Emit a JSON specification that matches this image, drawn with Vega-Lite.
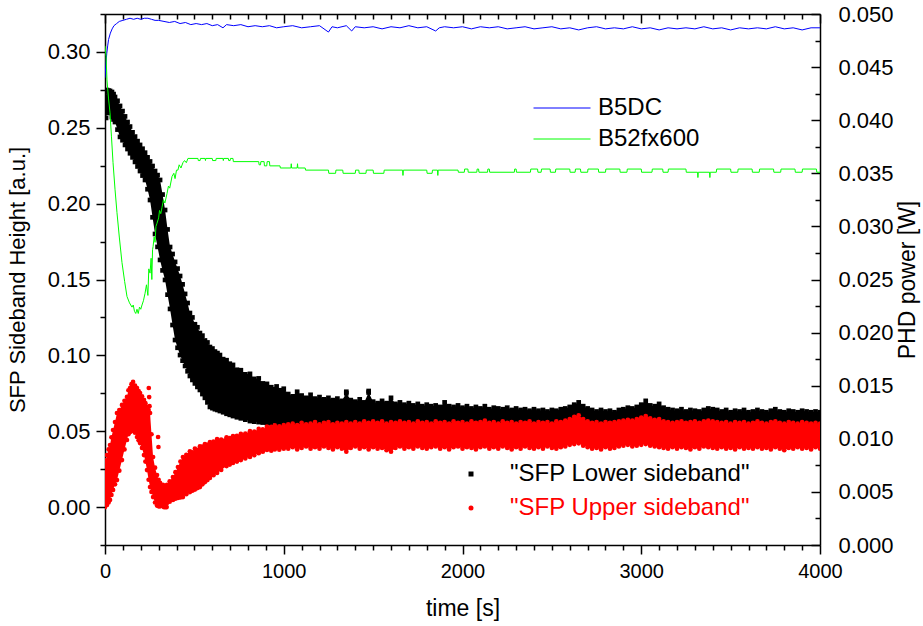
{
"$schema": "https://vega.github.io/schema/vega-lite/v6.json",
"width": 715,
"height": 531,
"autosize": "none",
"padding": {"left": 105, "top": 14, "right": 103, "bottom": 81},
"background": "white",
"config": {
  "view": {"stroke": null},
  "font": "Liberation Sans",
  "axis": {"domainColor": "#000000", "domainWidth": 1.5, "tickColor": "#000000", "tickWidth": 1.5, "labelColor": "#000000", "titleColor": "#000000", "labelFont": "Liberation Sans", "titleFont": "Liberation Sans", "labelFontSize": 22, "titleFontSize": 23, "titleFontWeight": "normal", "grid": false, "labelOverlap": false, "labelFlush": false, "labelBound": false},
  "legend": {"labelFont": "Liberation Sans", "labelFontSize": 24, "title": null, "labelLimit": 0}
},
"datasets": {
  "lower": [
    {"t":0,"lo":0.2598,"hi":0.2736},{"t":6,"lo":0.2565,"hi":0.2705},{"t":11,"lo":0.2604,"hi":0.2749},{"t":20,"lo":0.2600,"hi":0.2745},{"t":28,"lo":0.2598,"hi":0.2743},{"t":39,"lo":0.2571,"hi":0.2736},{"t":48,"lo":0.2555,"hi":0.2722},{"t":56,"lo":0.2538,"hi":0.2703},{"t":70,"lo":0.2488,"hi":0.2678},{"t":84,"lo":0.2440,"hi":0.2644},{"t":98,"lo":0.2418,"hi":0.2610},{"t":112,"lo":0.2387,"hi":0.2575},{"t":126,"lo":0.2360,"hi":0.2538},{"t":140,"lo":0.2332,"hi":0.2508},{"t":154,"lo":0.2305,"hi":0.2470},{"t":168,"lo":0.2275,"hi":0.2442},{"t":182,"lo":0.2245,"hi":0.2412},{"t":196,"lo":0.2215,"hi":0.2387},{"t":210,"lo":0.2185,"hi":0.2362},{"t":224,"lo":0.2156,"hi":0.2336},{"t":238,"lo":0.2095,"hi":0.2305},{"t":252,"lo":0.2024,"hi":0.2278},{"t":266,"lo":0.1910,"hi":0.2248},{"t":280,"lo":0.1800,"hi":0.2215},{"t":294,"lo":0.1715,"hi":0.2188},{"t":308,"lo":0.1629,"hi":0.2156},{"t":322,"lo":0.1560,"hi":0.2060},{"t":336,"lo":0.1497,"hi":0.1958},{"t":350,"lo":0.1400,"hi":0.1830},{"t":364,"lo":0.1306,"hi":0.1714},{"t":378,"lo":0.1200,"hi":0.1668},{"t":392,"lo":0.1101,"hi":0.1616},{"t":406,"lo":0.1050,"hi":0.1572},{"t":420,"lo":0.1002,"hi":0.1523},{"t":434,"lo":0.0965,"hi":0.1468},{"t":448,"lo":0.0930,"hi":0.1405},{"t":462,"lo":0.0895,"hi":0.1345},{"t":475,"lo":0.0864,"hi":0.1279},{"t":489,"lo":0.0838,"hi":0.1250},{"t":503,"lo":0.0815,"hi":0.1205},{"t":517,"lo":0.0792,"hi":0.1185},{"t":531,"lo":0.0772,"hi":0.1147},{"t":545,"lo":0.0745,"hi":0.1130},{"t":559,"lo":0.0720,"hi":0.1098},{"t":573,"lo":0.0690,"hi":0.1085},{"t":587,"lo":0.0660,"hi":0.1055},{"t":601,"lo":0.0652,"hi":0.1045},{"t":615,"lo":0.0645,"hi":0.1025},{"t":629,"lo":0.0640,"hi":0.1015},{"t":643,"lo":0.0633,"hi":0.1002},{"t":661,"lo":0.0625,"hi":0.0975},{"t":680,"lo":0.0615,"hi":0.0968},{"t":698,"lo":0.0608,"hi":0.0945},{"t":716,"lo":0.0600,"hi":0.0937},{"t":738,"lo":0.0592,"hi":0.0905},{"t":760,"lo":0.0585,"hi":0.0902},{"t":785,"lo":0.0576,"hi":0.0875},{"t":811,"lo":0.0567,"hi":0.0878},{"t":835,"lo":0.0563,"hi":0.0845},{"t":860,"lo":0.0560,"hi":0.0848},{"t":883,"lo":0.0557,"hi":0.0815},{"t":906,"lo":0.0554,"hi":0.0812},{"t":930,"lo":0.0552,"hi":0.0790},{"t":960,"lo":0.0550,"hi":0.0795},{"t":980,"lo":0.0548,"hi":0.0770},{"t":1000,"lo":0.0546,"hi":0.0780},
    {"t":1025,"lo":0.0530,"hi":0.0745},{"t":1050,"lo":0.0520,"hi":0.0730},{"t":1075,"lo":0.0530,"hi":0.0760},{"t":1100,"lo":0.0525,"hi":0.0735},{"t":1125,"lo":0.0515,"hi":0.0720},{"t":1150,"lo":0.0525,"hi":0.0740},{"t":1175,"lo":0.0520,"hi":0.0715},{"t":1200,"lo":0.0515,"hi":0.0725},{"t":1225,"lo":0.0525,"hi":0.0710},{"t":1250,"lo":0.0515,"hi":0.0720},{"t":1275,"lo":0.0520,"hi":0.0705},{"t":1300,"lo":0.0510,"hi":0.0715},{"t":1325,"lo":0.0520,"hi":0.0700},{"t":1350,"lo":0.0515,"hi":0.0750},{"t":1375,"lo":0.0510,"hi":0.0705},{"t":1400,"lo":0.0520,"hi":0.0695},{"t":1425,"lo":0.0510,"hi":0.0710},{"t":1450,"lo":0.0515,"hi":0.0690},{"t":1475,"lo":0.0510,"hi":0.0755},{"t":1500,"lo":0.0520,"hi":0.0695},{"t":1525,"lo":0.0510,"hi":0.0685},{"t":1550,"lo":0.0515,"hi":0.0700},{"t":1575,"lo":0.0510,"hi":0.0685},{"t":1600,"lo":0.0515,"hi":0.0720},{"t":1625,"lo":0.0510,"hi":0.0680},{"t":1650,"lo":0.0515,"hi":0.0690},{"t":1675,"lo":0.0505,"hi":0.0675},{"t":1700,"lo":0.0515,"hi":0.0685},{"t":1725,"lo":0.0505,"hi":0.0670},{"t":1750,"lo":0.0510,"hi":0.0680},{"t":1775,"lo":0.0505,"hi":0.0665},{"t":1800,"lo":0.0510,"hi":0.0675},{"t":1825,"lo":0.0505,"hi":0.0665},{"t":1850,"lo":0.0510,"hi":0.0670},{"t":1875,"lo":0.0505,"hi":0.0660},{"t":1900,"lo":0.0510,"hi":0.0690},{"t":1925,"lo":0.0505,"hi":0.0665},{"t":1950,"lo":0.0510,"hi":0.0660},{"t":1975,"lo":0.0505,"hi":0.0670},{"t":2000,"lo":0.0510,"hi":0.0655},
    {"t":2025,"lo":0.0505,"hi":0.0665},{"t":2050,"lo":0.0510,"hi":0.0650},{"t":2075,"lo":0.0505,"hi":0.0660},{"t":2100,"lo":0.0510,"hi":0.0650},{"t":2125,"lo":0.0505,"hi":0.0665},{"t":2150,"lo":0.0510,"hi":0.0645},{"t":2175,"lo":0.0505,"hi":0.0655},{"t":2200,"lo":0.0510,"hi":0.0650},{"t":2225,"lo":0.0505,"hi":0.0645},{"t":2250,"lo":0.0510,"hi":0.0655},{"t":2275,"lo":0.0505,"hi":0.0640},{"t":2300,"lo":0.0510,"hi":0.0650},{"t":2325,"lo":0.0505,"hi":0.0640},{"t":2350,"lo":0.0510,"hi":0.0645},{"t":2375,"lo":0.0505,"hi":0.0635},{"t":2400,"lo":0.0510,"hi":0.0645},{"t":2425,"lo":0.0505,"hi":0.0635},{"t":2450,"lo":0.0510,"hi":0.0640},{"t":2475,"lo":0.0505,"hi":0.0630},{"t":2500,"lo":0.0510,"hi":0.0640},{"t":2525,"lo":0.0505,"hi":0.0635},{"t":2550,"lo":0.0510,"hi":0.0645},{"t":2575,"lo":0.0510,"hi":0.0650},{"t":2600,"lo":0.0515,"hi":0.0660},{"t":2625,"lo":0.0520,"hi":0.0675},{"t":2650,"lo":0.0520,"hi":0.0690},{"t":2675,"lo":0.0515,"hi":0.0665},{"t":2700,"lo":0.0510,"hi":0.0650},{"t":2725,"lo":0.0505,"hi":0.0640},{"t":2750,"lo":0.0505,"hi":0.0630},{"t":2775,"lo":0.0505,"hi":0.0640},{"t":2800,"lo":0.0505,"hi":0.0630},{"t":2825,"lo":0.0505,"hi":0.0635},{"t":2850,"lo":0.0505,"hi":0.0625},{"t":2875,"lo":0.0505,"hi":0.0640},{"t":2900,"lo":0.0510,"hi":0.0645},{"t":2925,"lo":0.0510,"hi":0.0655},{"t":2950,"lo":0.0510,"hi":0.0650},{"t":2975,"lo":0.0515,"hi":0.0660},{"t":3000,"lo":0.0515,"hi":0.0675},
    {"t":3025,"lo":0.0520,"hi":0.0700},{"t":3050,"lo":0.0515,"hi":0.0670},{"t":3075,"lo":0.0510,"hi":0.0665},{"t":3100,"lo":0.0510,"hi":0.0680},{"t":3125,"lo":0.0505,"hi":0.0655},{"t":3150,"lo":0.0505,"hi":0.0645},{"t":3175,"lo":0.0505,"hi":0.0640},{"t":3200,"lo":0.0505,"hi":0.0635},{"t":3225,"lo":0.0505,"hi":0.0645},{"t":3250,"lo":0.0505,"hi":0.0630},{"t":3275,"lo":0.0505,"hi":0.0640},{"t":3300,"lo":0.0505,"hi":0.0635},{"t":3325,"lo":0.0505,"hi":0.0630},{"t":3350,"lo":0.0505,"hi":0.0640},{"t":3375,"lo":0.0510,"hi":0.0650},{"t":3400,"lo":0.0510,"hi":0.0645},{"t":3425,"lo":0.0505,"hi":0.0640},{"t":3450,"lo":0.0505,"hi":0.0630},{"t":3475,"lo":0.0505,"hi":0.0640},{"t":3500,"lo":0.0500,"hi":0.0625},{"t":3525,"lo":0.0505,"hi":0.0635},{"t":3550,"lo":0.0500,"hi":0.0630},{"t":3575,"lo":0.0505,"hi":0.0640},{"t":3600,"lo":0.0500,"hi":0.0625},{"t":3625,"lo":0.0500,"hi":0.0630},{"t":3650,"lo":0.0505,"hi":0.0640},{"t":3675,"lo":0.0500,"hi":0.0630},{"t":3700,"lo":0.0500,"hi":0.0625},{"t":3725,"lo":0.0505,"hi":0.0635},{"t":3750,"lo":0.0505,"hi":0.0645},{"t":3775,"lo":0.0500,"hi":0.0630},{"t":3800,"lo":0.0495,"hi":0.0625},{"t":3825,"lo":0.0500,"hi":0.0635},{"t":3850,"lo":0.0500,"hi":0.0630},{"t":3875,"lo":0.0500,"hi":0.0625},{"t":3900,"lo":0.0500,"hi":0.0635},{"t":3925,"lo":0.0500,"hi":0.0630},{"t":3950,"lo":0.0500,"hi":0.0625},{"t":3975,"lo":0.0500,"hi":0.0630},{"t":4000,"lo":0.0500,"hi":0.0625},
    {"t":503,"hi":0.1154},{"t":654,"hi":0.0970},{"t":1350,"hi":0.0760},{"t":1475,"hi":0.0765}
  ],
  "upper": [
    {"t":0,"lo":0.0000,"hi":0.0310},{"t":5,"lo":0.0020,"hi":0.0300},{"t":11,"lo":0.0014,"hi":0.0343},{"t":20,"lo":0.0030,"hi":0.0380},{"t":28,"lo":0.0047,"hi":0.0409},{"t":36,"lo":0.0080,"hi":0.0460},{"t":45,"lo":0.0113,"hi":0.0508},{"t":56,"lo":0.0150,"hi":0.0560},{"t":67,"lo":0.0178,"hi":0.0620},{"t":80,"lo":0.0240,"hi":0.0640},{"t":95,"lo":0.0310,"hi":0.0673},{"t":109,"lo":0.0380,"hi":0.0700},{"t":123,"lo":0.0442,"hi":0.0726},{"t":131,"lo":0.0480,"hi":0.0770},{"t":140,"lo":0.0495,"hi":0.0785},{"t":148,"lo":0.0500,"hi":0.0810},{"t":157,"lo":0.0508,"hi":0.0825},{"t":168,"lo":0.0490,"hi":0.0800},{"t":179,"lo":0.0462,"hi":0.0785},{"t":188,"lo":0.0440,"hi":0.0765},{"t":196,"lo":0.0422,"hi":0.0752},{"t":207,"lo":0.0390,"hi":0.0730},{"t":218,"lo":0.0343,"hi":0.0706},{"t":226,"lo":0.0300,"hi":0.0685},{"t":235,"lo":0.0244,"hi":0.0660},{"t":244,"lo":0.0180,"hi":0.0640},{"t":252,"lo":0.0132,"hi":0.0620},{"t":260,"lo":0.0100,"hi":0.0480},{"t":269,"lo":0.0066,"hi":0.0330},{"t":280,"lo":0.0030,"hi":0.0260},{"t":291,"lo":0.0010,"hi":0.0211},{"t":300,"lo":0.0005,"hi":0.0180},{"t":308,"lo":0.0005,"hi":0.0159},{"t":324,"lo":0.0005,"hi":0.0146},{"t":336,"lo":0.0008,"hi":0.0140},{"t":347,"lo":0.0027,"hi":0.0146},{"t":362,"lo":0.0035,"hi":0.0170},{"t":380,"lo":0.0047,"hi":0.0198},{"t":394,"lo":0.0055,"hi":0.0230},{"t":408,"lo":0.0060,"hi":0.0264},{"t":422,"lo":0.0063,"hi":0.0300},{"t":436,"lo":0.0066,"hi":0.0330},{"t":455,"lo":0.0085,"hi":0.0345},{"t":475,"lo":0.0099,"hi":0.0368},{"t":489,"lo":0.0108,"hi":0.0360},{"t":503,"lo":0.0115,"hi":0.0385},{"t":517,"lo":0.0125,"hi":0.0378},{"t":531,"lo":0.0132,"hi":0.0400},{"t":545,"lo":0.0150,"hi":0.0398},{"t":559,"lo":0.0165,"hi":0.0415},{"t":573,"lo":0.0178,"hi":0.0410},{"t":587,"lo":0.0192,"hi":0.0428},{"t":607,"lo":0.0210,"hi":0.0432},{"t":627,"lo":0.0225,"hi":0.0448},{"t":650,"lo":0.0245,"hi":0.0445},{"t":680,"lo":0.0270,"hi":0.0460},{"t":698,"lo":0.0280,"hi":0.0455},{"t":716,"lo":0.0291,"hi":0.0468},{"t":738,"lo":0.0300,"hi":0.0470},{"t":760,"lo":0.0310,"hi":0.0482},{"t":785,"lo":0.0320,"hi":0.0485},{"t":811,"lo":0.0330,"hi":0.0500},{"t":835,"lo":0.0342,"hi":0.0498},{"t":860,"lo":0.0355,"hi":0.0515},{"t":883,"lo":0.0365,"hi":0.0512},{"t":906,"lo":0.0376,"hi":0.0530},{"t":930,"lo":0.0372,"hi":0.0528},{"t":950,"lo":0.0380,"hi":0.0538},{"t":975,"lo":0.0378,"hi":0.0532},{"t":1000,"lo":0.0385,"hi":0.0540},
    {"t":1025,"lo":0.0385,"hi":0.0545},{"t":1050,"lo":0.0395,"hi":0.0550},{"t":1075,"lo":0.0380,"hi":0.0540},{"t":1100,"lo":0.0390,"hi":0.0555},{"t":1125,"lo":0.0400,"hi":0.0545},{"t":1150,"lo":0.0385,"hi":0.0550},{"t":1175,"lo":0.0395,"hi":0.0560},{"t":1200,"lo":0.0385,"hi":0.0545},{"t":1225,"lo":0.0400,"hi":0.0555},{"t":1250,"lo":0.0390,"hi":0.0560},{"t":1275,"lo":0.0380,"hi":0.0545},{"t":1300,"lo":0.0395,"hi":0.0555},{"t":1325,"lo":0.0385,"hi":0.0550},{"t":1350,"lo":0.0365,"hi":0.0560},{"t":1375,"lo":0.0390,"hi":0.0550},{"t":1400,"lo":0.0400,"hi":0.0560},{"t":1425,"lo":0.0385,"hi":0.0550},{"t":1450,"lo":0.0395,"hi":0.0565},{"t":1475,"lo":0.0380,"hi":0.0555},{"t":1500,"lo":0.0395,"hi":0.0565},{"t":1525,"lo":0.0385,"hi":0.0555},{"t":1550,"lo":0.0390,"hi":0.0565},{"t":1575,"lo":0.0375,"hi":0.0550},{"t":1600,"lo":0.0365,"hi":0.0560},{"t":1625,"lo":0.0390,"hi":0.0555},{"t":1650,"lo":0.0400,"hi":0.0565},{"t":1675,"lo":0.0385,"hi":0.0555},{"t":1700,"lo":0.0395,"hi":0.0560},{"t":1725,"lo":0.0385,"hi":0.0550},{"t":1750,"lo":0.0400,"hi":0.0565},{"t":1775,"lo":0.0390,"hi":0.0555},{"t":1800,"lo":0.0385,"hi":0.0560},{"t":1825,"lo":0.0395,"hi":0.0550},{"t":1850,"lo":0.0400,"hi":0.0565},{"t":1875,"lo":0.0385,"hi":0.0555},{"t":1900,"lo":0.0395,"hi":0.0560},{"t":1925,"lo":0.0380,"hi":0.0550},{"t":1950,"lo":0.0395,"hi":0.0565},{"t":1975,"lo":0.0400,"hi":0.0555},{"t":2000,"lo":0.0385,"hi":0.0560},
    {"t":2025,"lo":0.0395,"hi":0.0550},{"t":2050,"lo":0.0390,"hi":0.0565},{"t":2075,"lo":0.0380,"hi":0.0555},{"t":2100,"lo":0.0395,"hi":0.0560},{"t":2125,"lo":0.0400,"hi":0.0570},{"t":2150,"lo":0.0385,"hi":0.0555},{"t":2175,"lo":0.0395,"hi":0.0560},{"t":2200,"lo":0.0385,"hi":0.0550},{"t":2225,"lo":0.0400,"hi":0.0565},{"t":2250,"lo":0.0390,"hi":0.0555},{"t":2275,"lo":0.0380,"hi":0.0560},{"t":2300,"lo":0.0395,"hi":0.0550},{"t":2325,"lo":0.0385,"hi":0.0560},{"t":2350,"lo":0.0400,"hi":0.0555},{"t":2375,"lo":0.0390,"hi":0.0565},{"t":2400,"lo":0.0385,"hi":0.0550},{"t":2425,"lo":0.0395,"hi":0.0560},{"t":2450,"lo":0.0385,"hi":0.0555},{"t":2475,"lo":0.0400,"hi":0.0560},{"t":2500,"lo":0.0390,"hi":0.0550},{"t":2525,"lo":0.0385,"hi":0.0565},{"t":2550,"lo":0.0395,"hi":0.0560},{"t":2575,"lo":0.0400,"hi":0.0570},{"t":2600,"lo":0.0410,"hi":0.0580},{"t":2625,"lo":0.0415,"hi":0.0595},{"t":2650,"lo":0.0420,"hi":0.0605},{"t":2675,"lo":0.0405,"hi":0.0580},{"t":2700,"lo":0.0395,"hi":0.0565},{"t":2725,"lo":0.0385,"hi":0.0555},{"t":2750,"lo":0.0390,"hi":0.0560},{"t":2775,"lo":0.0380,"hi":0.0550},{"t":2800,"lo":0.0395,"hi":0.0560},{"t":2825,"lo":0.0385,"hi":0.0555},{"t":2850,"lo":0.0390,"hi":0.0560},{"t":2875,"lo":0.0400,"hi":0.0565},{"t":2900,"lo":0.0405,"hi":0.0570},{"t":2925,"lo":0.0410,"hi":0.0575},{"t":2950,"lo":0.0400,"hi":0.0570},{"t":2975,"lo":0.0405,"hi":0.0580},{"t":3000,"lo":0.0410,"hi":0.0590},
    {"t":3025,"lo":0.0415,"hi":0.0600},{"t":3050,"lo":0.0405,"hi":0.0585},{"t":3075,"lo":0.0400,"hi":0.0575},{"t":3100,"lo":0.0395,"hi":0.0580},{"t":3125,"lo":0.0390,"hi":0.0565},{"t":3150,"lo":0.0385,"hi":0.0560},{"t":3175,"lo":0.0395,"hi":0.0555},{"t":3200,"lo":0.0385,"hi":0.0560},{"t":3225,"lo":0.0395,"hi":0.0565},{"t":3250,"lo":0.0390,"hi":0.0555},{"t":3275,"lo":0.0380,"hi":0.0560},{"t":3300,"lo":0.0395,"hi":0.0565},{"t":3325,"lo":0.0385,"hi":0.0555},{"t":3350,"lo":0.0400,"hi":0.0565},{"t":3375,"lo":0.0395,"hi":0.0570},{"t":3400,"lo":0.0390,"hi":0.0565},{"t":3425,"lo":0.0385,"hi":0.0560},{"t":3450,"lo":0.0395,"hi":0.0555},{"t":3475,"lo":0.0385,"hi":0.0560},{"t":3500,"lo":0.0390,"hi":0.0550},{"t":3525,"lo":0.0380,"hi":0.0560},{"t":3550,"lo":0.0395,"hi":0.0555},{"t":3575,"lo":0.0385,"hi":0.0560},{"t":3600,"lo":0.0390,"hi":0.0550},{"t":3625,"lo":0.0385,"hi":0.0555},{"t":3650,"lo":0.0395,"hi":0.0565},{"t":3675,"lo":0.0385,"hi":0.0555},{"t":3700,"lo":0.0390,"hi":0.0550},{"t":3725,"lo":0.0380,"hi":0.0560},{"t":3750,"lo":0.0395,"hi":0.0565},{"t":3775,"lo":0.0385,"hi":0.0555},{"t":3800,"lo":0.0375,"hi":0.0550},{"t":3825,"lo":0.0390,"hi":0.0560},{"t":3850,"lo":0.0385,"hi":0.0555},{"t":3875,"lo":0.0395,"hi":0.0550},{"t":3900,"lo":0.0385,"hi":0.0560},{"t":3925,"lo":0.0390,"hi":0.0555},{"t":3950,"lo":0.0380,"hi":0.0550},{"t":3975,"lo":0.0395,"hi":0.0555},{"t":4000,"lo":0.0385,"hi":0.0550},
    {"t":245,"hi":0.0785},{"t":247,"hi":0.0725},{"t":249,"hi":0.0665},{"t":297,"hi":0.0462},{"t":299,"hi":0.0396},{"t":330,"hi":0.0},{"t":338,"hi":0.0},{"t":345,"hi":0.0}
  ],
  "blue": [
    {"t":0,"p":0.0440},{"t":5,"p":0.0453},{"t":10,"p":0.0463},{"t":15,"p":0.0470},{"t":20,"p":0.0476},{"t":30,"p":0.0482},{"t":40,"p":0.0486},{"t":50,"p":0.0489},{"t":65,"p":0.0491},{"t":80,"p":0.0493},{"t":100,"p":0.0494},{"t":120,"p":0.0495},{"t":140,"p":0.0496},{"t":160,"p":0.0495},{"t":180,"p":0.0496},{"t":200,"p":0.0495},{"t":220,"p":0.0496},{"t":240,"p":0.0496},{"t":260,"p":0.0495},{"t":280,"p":0.0494},{"t":300,"p":0.0494},{"t":330,"p":0.0493},{"t":360,"p":0.0492},{"t":390,"p":0.0493},{"t":420,"p":0.0491},{"t":450,"p":0.0492},{"t":480,"p":0.0490},{"t":510,"p":0.0491},{"t":540,"p":0.0490},{"t":570,"p":0.0491},{"t":600,"p":0.0489},{"t":630,"p":0.0490},{"t":660,"p":0.0487},{"t":680,"p":0.0490},{"t":720,"p":0.0489},{"t":760,"p":0.0490},{"t":800,"p":0.0488},{"t":840,"p":0.0489},{"t":880,"p":0.0488},{"t":920,"p":0.0489},{"t":960,"p":0.0487},{"t":1000,"p":0.0488},
    {"t":1050,"p":0.0489},{"t":1100,"p":0.0487},{"t":1150,"p":0.0488},{"t":1200,"p":0.0489},{"t":1250,"p":0.0483},{"t":1270,"p":0.0488},{"t":1300,"p":0.0487},{"t":1350,"p":0.0489},{"t":1380,"p":0.0484},{"t":1400,"p":0.0488},{"t":1450,"p":0.0487},{"t":1500,"p":0.0488},{"t":1550,"p":0.0486},{"t":1600,"p":0.0488},{"t":1650,"p":0.0487},{"t":1700,"p":0.0489},{"t":1750,"p":0.0487},{"t":1800,"p":0.0488},{"t":1850,"p":0.0484},{"t":1870,"p":0.0487},{"t":1900,"p":0.0488},{"t":1950,"p":0.0487},{"t":2000,"p":0.0488},{"t":2050,"p":0.0486},{"t":2100,"p":0.0488},{"t":2150,"p":0.0487},{"t":2200,"p":0.0488},{"t":2250,"p":0.0486},{"t":2300,"p":0.0487},{"t":2350,"p":0.0488},{"t":2400,"p":0.0486},{"t":2450,"p":0.0487},{"t":2500,"p":0.0488},{"t":2550,"p":0.0486},{"t":2600,"p":0.0487},{"t":2650,"p":0.0485},{"t":2700,"p":0.0487},{"t":2750,"p":0.0488},{"t":2800,"p":0.0486},{"t":2850,"p":0.0487},{"t":2900,"p":0.0486},{"t":2950,"p":0.0488},{"t":3000,"p":0.0486},{"t":3050,"p":0.0487},{"t":3100,"p":0.0485},{"t":3150,"p":0.0487},{"t":3200,"p":0.0486},{"t":3250,"p":0.0487},{"t":3300,"p":0.0486},{"t":3350,"p":0.0488},{"t":3400,"p":0.0486},{"t":3450,"p":0.0487},{"t":3500,"p":0.0485},{"t":3550,"p":0.0487},{"t":3600,"p":0.0486},{"t":3650,"p":0.0487},{"t":3700,"p":0.0486},{"t":3750,"p":0.0488},{"t":3800,"p":0.0486},{"t":3850,"p":0.0487},{"t":3900,"p":0.0485},{"t":3950,"p":0.0487},{"t":4000,"p":0.0487}
  ],
  "green": [
    {"t":0,"p":0.0470},{"t":6,"p":0.0460},{"t":11,"p":0.0438},{"t":20,"p":0.0420},{"t":28,"p":0.0407},{"t":36,"p":0.0385},{"t":45,"p":0.0360},{"t":56,"p":0.0335},{"t":67,"p":0.0313},{"t":80,"p":0.0290},{"t":95,"p":0.0266},{"t":110,"p":0.0248},{"t":123,"p":0.0234},{"t":137,"p":0.0228},{"t":151,"p":0.0224},{"t":158,"p":0.0226},{"t":165,"p":0.0220},{"t":172,"p":0.0218},{"t":179,"p":0.0222},{"t":186,"p":0.0218},{"t":193,"p":0.0224},{"t":200,"p":0.0222},{"t":207,"p":0.0226},{"t":215,"p":0.0230},{"t":224,"p":0.0237},{"t":232,"p":0.0245},{"t":240,"p":0.0235},{"t":245,"p":0.0260},{"t":252,"p":0.0256},{"t":258,"p":0.0270},{"t":262,"p":0.0250},{"t":266,"p":0.0278},{"t":269,"p":0.0281},{"t":275,"p":0.0290},{"t":280,"p":0.0285},{"t":285,"p":0.0300},{"t":291,"p":0.0303},{"t":300,"p":0.0308},{"t":305,"p":0.0315},{"t":312,"p":0.0312},{"t":319,"p":0.0318},{"t":327,"p":0.0325},{"t":335,"p":0.0322},{"t":347,"p":0.0331},{"t":355,"p":0.0338},{"t":362,"p":0.0336},{"t":375,"p":0.0347},{"t":385,"p":0.0350},{"t":392,"p":0.0345},{"t":400,"p":0.0353},{"t":408,"p":0.0353},{"t":415,"p":0.0358},{"t":425,"p":0.0355},{"t":436,"p":0.0360},{"t":445,"p":0.0362},{"t":455,"p":0.0360},{"t":464,"p":0.0364},
    {"t":520,"p":0.0364},{"t":522,"p":0.0362},{"t":532,"p":0.0362},{"t":534,"p":0.0364},{"t":560,"p":0.0364},{"t":562,"p":0.0362},{"t":564,"p":0.0364},{"t":600,"p":0.0364},{"t":602,"p":0.0362},{"t":620,"p":0.0362},{"t":622,"p":0.0364},{"t":660,"p":0.0364},{"t":662,"p":0.0362},{"t":664,"p":0.0364},{"t":690,"p":0.0364},{"t":692,"p":0.0362},{"t":700,"p":0.0362},{"t":702,"p":0.0364},{"t":716,"p":0.0364},{"t":718,"p":0.0361},{"t":860,"p":0.0361},{"t":862,"p":0.0358},{"t":870,"p":0.0358},{"t":872,"p":0.0361},{"t":890,"p":0.0361},{"t":892,"p":0.0357},{"t":905,"p":0.0357},{"t":907,"p":0.0361},{"t":920,"p":0.0361},{"t":922,"p":0.0357},{"t":979,"p":0.0357},{"t":981,"p":0.0355},{"t":1040,"p":0.0355},{"t":1042,"p":0.0359},{"t":1044,"p":0.0355},{"t":1075,"p":0.0355},{"t":1077,"p":0.0359},{"t":1079,"p":0.0355},{"t":1120,"p":0.0355},{"t":1122,"p":0.0353},
    {"t":1250,"p":0.0353},{"t":1252,"p":0.0350},{"t":1290,"p":0.0350},{"t":1292,"p":0.0353},{"t":1330,"p":0.0353},{"t":1332,"p":0.0350},{"t":1400,"p":0.0350},{"t":1402,"p":0.0353},{"t":1420,"p":0.0353},{"t":1422,"p":0.0350},{"t":1460,"p":0.0350},{"t":1462,"p":0.0353},{"t":1500,"p":0.0353},{"t":1502,"p":0.0350},{"t":1560,"p":0.0350},{"t":1562,"p":0.0353},{"t":1665,"p":0.0353},{"t":1667,"p":0.0348},{"t":1669,"p":0.0353},{"t":1800,"p":0.0353},{"t":1802,"p":0.0350},{"t":1830,"p":0.0350},{"t":1832,"p":0.0353},{"t":1860,"p":0.0353},{"t":1862,"p":0.0348},{"t":1864,"p":0.0353},{"t":1975,"p":0.0353},{"t":1977,"p":0.0351},
    {"t":2010,"p":0.0351},{"t":2012,"p":0.0354},{"t":2030,"p":0.0354},{"t":2032,"p":0.0351},{"t":2080,"p":0.0351},{"t":2082,"p":0.0354},{"t":2090,"p":0.0354},{"t":2092,"p":0.0351},{"t":2140,"p":0.0351},{"t":2142,"p":0.0354},{"t":2150,"p":0.0354},{"t":2152,"p":0.0351},{"t":2290,"p":0.0351},{"t":2292,"p":0.0354},{"t":2300,"p":0.0354},{"t":2302,"p":0.0351},{"t":2380,"p":0.0351},{"t":2382,"p":0.0354},{"t":2420,"p":0.0354},{"t":2422,"p":0.0351},{"t":2440,"p":0.0351},{"t":2442,"p":0.0354},{"t":2490,"p":0.0354},{"t":2492,"p":0.0351},{"t":2520,"p":0.0351},{"t":2522,"p":0.0354},{"t":2600,"p":0.0354},{"t":2602,"p":0.0351},{"t":2630,"p":0.0351},{"t":2632,"p":0.0354},{"t":2660,"p":0.0354},{"t":2662,"p":0.0351},{"t":2700,"p":0.0351},{"t":2702,"p":0.0354},{"t":2760,"p":0.0354},{"t":2762,"p":0.0351},{"t":2800,"p":0.0351},{"t":2802,"p":0.0354},{"t":2880,"p":0.0354},{"t":2882,"p":0.0351},{"t":2920,"p":0.0351},{"t":2922,"p":0.0354},{"t":3000,"p":0.0354},{"t":3002,"p":0.0351},{"t":3060,"p":0.0351},{"t":3062,"p":0.0354},{"t":3120,"p":0.0354},{"t":3122,"p":0.0351},{"t":3150,"p":0.0351},{"t":3152,"p":0.0354},{"t":3250,"p":0.0354},{"t":3252,"p":0.0351},{"t":3315,"p":0.0351},{"t":3317,"p":0.0346},{"t":3319,"p":0.0351},{"t":3382,"p":0.0351},{"t":3384,"p":0.0346},{"t":3386,"p":0.0351},{"t":3420,"p":0.0351},{"t":3422,"p":0.0354},{"t":3500,"p":0.0354},{"t":3502,"p":0.0351},{"t":3540,"p":0.0351},{"t":3542,"p":0.0354},{"t":3620,"p":0.0354},{"t":3622,"p":0.0351},{"t":3660,"p":0.0351},{"t":3662,"p":0.0354},{"t":3740,"p":0.0354},{"t":3742,"p":0.0351},{"t":3780,"p":0.0351},{"t":3782,"p":0.0354},{"t":3860,"p":0.0354},{"t":3862,"p":0.0351},{"t":3900,"p":0.0351},{"t":3902,"p":0.0354},{"t":3980,"p":0.0354},{"t":3982,"p":0.0351},{"t":4000,"p":0.0351}
  ]
},
"layer": [
  {
    "layer": [
      {
        "data": {"name": "lower"},
        "transform": [{"filter": "isValid(datum.lo)"}],
        "mark": {"type": "area", "color": "#000000", "clip": true},
        "encoding": {
          "x": {"field": "t", "type": "quantitative", "scale": {"domain": [0, 4000], "nice": false, "zero": false},
            "axis": {"orient": "bottom", "title": "time [s]", "titlePadding": 16, "labelPadding": 7, "format": "d", "labelFontSize": 20,
              "values": [0,100,200,300,400,500,600,700,800,900,1000,1100,1200,1300,1400,1500,1600,1700,1800,1900,2000,2100,2200,2300,2400,2500,2600,2700,2800,2900,3000,3100,3200,3300,3400,3500,3600,3700,3800,3900,4000],
              "labelExpr": "datum.value % 1000 === 0 ? datum.label : ''",
              "tickSize": {"condition": {"test": "datum.value % 1000 === 0", "value": 9}, "value": 5}}},
          "y": {"field": "hi", "type": "quantitative", "scale": {"domain": [-0.025, 0.325], "nice": false, "zero": false},
            "axis": {"orient": "left", "title": "SFP Sideband Height [a.u.]", "titleFontSize": 22, "titlePadding": 18, "labelPadding": 6,
              "values": [-0.025,0,0.025,0.05,0.075,0.1,0.125,0.15,0.175,0.2,0.225,0.25,0.275,0.3,0.325],
              "labelExpr": "(abs(datum.value*20 - round(datum.value*20)) < 0.001 && datum.value < 0.31) ? format(datum.value, '.2f') : ''",
              "tickSize": {"condition": {"test": "abs(datum.value*20 - round(datum.value*20)) < 0.001", "value": 9}, "value": 5}}},
          "y2": {"field": "lo"}
        }
      },
      {
        "data": {"name": "lower"},
        "transform": [{"fold": ["hi", "lo"], "as": ["k", "v"]}, {"filter": "isValid(datum.v)"}],
        "mark": {"type": "point", "filled": true, "shape": "square", "size": 22, "opacity": 1, "clip": true},
        "encoding": {
          "x": {"field": "t", "type": "quantitative", "scale": {"domain": [0, 4000], "nice": false, "zero": false},
            "axis": {"orient": "bottom", "title": "time [s]", "titlePadding": 16, "labelPadding": 7, "format": "d", "labelFontSize": 20,
              "values": [0,100,200,300,400,500,600,700,800,900,1000,1100,1200,1300,1400,1500,1600,1700,1800,1900,2000,2100,2200,2300,2400,2500,2600,2700,2800,2900,3000,3100,3200,3300,3400,3500,3600,3700,3800,3900,4000],
              "labelExpr": "datum.value % 1000 === 0 ? datum.label : ''",
              "tickSize": {"condition": {"test": "datum.value % 1000 === 0", "value": 9}, "value": 5}}},
          "y": {"field": "v", "type": "quantitative", "scale": {"domain": [-0.025, 0.325], "nice": false, "zero": false},
            "axis": {"orient": "left", "title": "SFP Sideband Height [a.u.]", "titleFontSize": 22, "titlePadding": 18, "labelPadding": 6,
              "values": [-0.025,0,0.025,0.05,0.075,0.1,0.125,0.15,0.175,0.2,0.225,0.25,0.275,0.3,0.325],
              "labelExpr": "(abs(datum.value*20 - round(datum.value*20)) < 0.001 && datum.value < 0.31) ? format(datum.value, '.2f') : ''",
              "tickSize": {"condition": {"test": "abs(datum.value*20 - round(datum.value*20)) < 0.001", "value": 9}, "value": 5}}},
          "fill": {"datum": "\"SFP Lower sideband\"", "scale": {"domain": ["\"SFP Lower sideband\""], "range": ["#000000"]},
            "legend": {"orient": "none", "legendX": 354, "legendY": 448, "symbolType": "square", "symbolSize": 25, "labelOffset": 27, "labelColor": "#000000", "labelFontSize": 24, "labelLimit": 0, "title": null}}
        }
      },
      {
        "data": {"name": "upper"},
        "transform": [{"filter": "isValid(datum.lo)"}],
        "mark": {"type": "area", "color": "#ff0000", "clip": true},
        "encoding": {
          "x": {"field": "t", "type": "quantitative", "scale": {"domain": [0, 4000], "nice": false, "zero": false},
            "axis": {"orient": "bottom", "title": "time [s]", "titlePadding": 16, "labelPadding": 7, "format": "d", "labelFontSize": 20,
              "values": [0,100,200,300,400,500,600,700,800,900,1000,1100,1200,1300,1400,1500,1600,1700,1800,1900,2000,2100,2200,2300,2400,2500,2600,2700,2800,2900,3000,3100,3200,3300,3400,3500,3600,3700,3800,3900,4000],
              "labelExpr": "datum.value % 1000 === 0 ? datum.label : ''",
              "tickSize": {"condition": {"test": "datum.value % 1000 === 0", "value": 9}, "value": 5}}},
          "y": {"field": "hi", "type": "quantitative", "scale": {"domain": [-0.025, 0.325], "nice": false, "zero": false},
            "axis": {"orient": "left", "title": "SFP Sideband Height [a.u.]", "titleFontSize": 22, "titlePadding": 18, "labelPadding": 6,
              "values": [-0.025,0,0.025,0.05,0.075,0.1,0.125,0.15,0.175,0.2,0.225,0.25,0.275,0.3,0.325],
              "labelExpr": "(abs(datum.value*20 - round(datum.value*20)) < 0.001 && datum.value < 0.31) ? format(datum.value, '.2f') : ''",
              "tickSize": {"condition": {"test": "abs(datum.value*20 - round(datum.value*20)) < 0.001", "value": 9}, "value": 5}}},
          "y2": {"field": "lo"}
        }
      },
      {
        "data": {"name": "upper"},
        "transform": [{"fold": ["hi", "lo"], "as": ["k", "v"]}, {"filter": "isValid(datum.v)"}],
        "mark": {"type": "point", "filled": true, "shape": "circle", "size": 22, "opacity": 1, "clip": true},
        "encoding": {
          "x": {"field": "t", "type": "quantitative", "scale": {"domain": [0, 4000], "nice": false, "zero": false},
            "axis": {"orient": "bottom", "title": "time [s]", "titlePadding": 16, "labelPadding": 7, "format": "d", "labelFontSize": 20,
              "values": [0,100,200,300,400,500,600,700,800,900,1000,1100,1200,1300,1400,1500,1600,1700,1800,1900,2000,2100,2200,2300,2400,2500,2600,2700,2800,2900,3000,3100,3200,3300,3400,3500,3600,3700,3800,3900,4000],
              "labelExpr": "datum.value % 1000 === 0 ? datum.label : ''",
              "tickSize": {"condition": {"test": "datum.value % 1000 === 0", "value": 9}, "value": 5}}},
          "y": {"field": "v", "type": "quantitative", "scale": {"domain": [-0.025, 0.325], "nice": false, "zero": false},
            "axis": {"orient": "left", "title": "SFP Sideband Height [a.u.]", "titleFontSize": 22, "titlePadding": 18, "labelPadding": 6,
              "values": [-0.025,0,0.025,0.05,0.075,0.1,0.125,0.15,0.175,0.2,0.225,0.25,0.275,0.3,0.325],
              "labelExpr": "(abs(datum.value*20 - round(datum.value*20)) < 0.001 && datum.value < 0.31) ? format(datum.value, '.2f') : ''",
              "tickSize": {"condition": {"test": "abs(datum.value*20 - round(datum.value*20)) < 0.001", "value": 9}, "value": 5}}},
          "color": {"datum": "\"SFP Upper sideband\"", "scale": {"domain": ["\"SFP Upper sideband\""], "range": ["#ff0000"]},
            "legend": {"orient": "none", "legendX": 354, "legendY": 482, "symbolType": "circle", "symbolSize": 25, "labelOffset": 27, "labelColor": "#ff0000", "labelFontSize": 24, "labelLimit": 0, "title": null}}
        }
      }
    ]
  },
  {
    "layer": [
      {
        "data": {"name": "blue"},
        "mark": {"type": "line", "strokeWidth": 1, "clip": true},
        "encoding": {
          "x": {"field": "t", "type": "quantitative", "scale": {"domain": [0, 4000], "nice": false, "zero": false},
            "axis": {"orient": "top", "labels": false, "title": null,
              "values": [0,100,200,300,400,500,600,700,800,900,1000,1100,1200,1300,1400,1500,1600,1700,1800,1900,2000,2100,2200,2300,2400,2500,2600,2700,2800,2900,3000,3100,3200,3300,3400,3500,3600,3700,3800,3900,4000],
              "tickSize": {"condition": {"test": "datum.value % 1000 === 0", "value": -9}, "value": -5}}},
          "y": {"field": "p", "type": "quantitative", "scale": {"domain": [0, 0.05], "nice": false, "zero": false},
            "axis": {"orient": "right", "title": "PHD power [W]", "titleAngle": 270, "titlePadding": 26, "labelPadding": 27,
              "values": [0,0.0025,0.005,0.0075,0.01,0.0125,0.015,0.0175,0.02,0.0225,0.025,0.0275,0.03,0.0325,0.035,0.0375,0.04,0.0425,0.045,0.0475,0.05],
              "labelExpr": "abs(datum.value*200 - round(datum.value*200)) < 0.001 ? format(datum.value, '.3f') : ''",
              "tickSize": {"condition": {"test": "abs(datum.value*200 - round(datum.value*200)) < 0.001", "value": -9}, "value": -5}}},
          "stroke": {"datum": "B5DC", "scale": {"domain": ["B5DC", "B52fx600"], "range": ["#0000ff", "#00ff00"]},
            "legend": {"orient": "none", "legendX": 428, "legendY": 82, "symbolType": "stroke", "symbolSize": 3249, "symbolStrokeWidth": 1, "clipHeight": 24, "rowPadding": 7, "labelOffset": 7, "labelFontSize": 24, "title": null}}
        }
      },
      {
        "data": {"name": "green"},
        "mark": {"type": "line", "strokeWidth": 1, "clip": true},
        "encoding": {
          "x": {"field": "t", "type": "quantitative", "scale": {"domain": [0, 4000], "nice": false, "zero": false},
            "axis": {"orient": "top", "labels": false, "title": null,
              "values": [0,100,200,300,400,500,600,700,800,900,1000,1100,1200,1300,1400,1500,1600,1700,1800,1900,2000,2100,2200,2300,2400,2500,2600,2700,2800,2900,3000,3100,3200,3300,3400,3500,3600,3700,3800,3900,4000],
              "tickSize": {"condition": {"test": "datum.value % 1000 === 0", "value": -9}, "value": -5}}},
          "y": {"field": "p", "type": "quantitative", "scale": {"domain": [0, 0.05], "nice": false, "zero": false},
            "axis": {"orient": "right", "title": "PHD power [W]", "titleAngle": 270, "titlePadding": 26, "labelPadding": 27,
              "values": [0,0.0025,0.005,0.0075,0.01,0.0125,0.015,0.0175,0.02,0.0225,0.025,0.0275,0.03,0.0325,0.035,0.0375,0.04,0.0425,0.045,0.0475,0.05],
              "labelExpr": "abs(datum.value*200 - round(datum.value*200)) < 0.001 ? format(datum.value, '.3f') : ''",
              "tickSize": {"condition": {"test": "abs(datum.value*200 - round(datum.value*200)) < 0.001", "value": -9}, "value": -5}}},
          "stroke": {"datum": "B52fx600"}
        }
      }
    ]
  }
],
"resolve": {"scale": {"y": "independent"}, "axis": {"x": "independent", "y": "independent"}}
}
